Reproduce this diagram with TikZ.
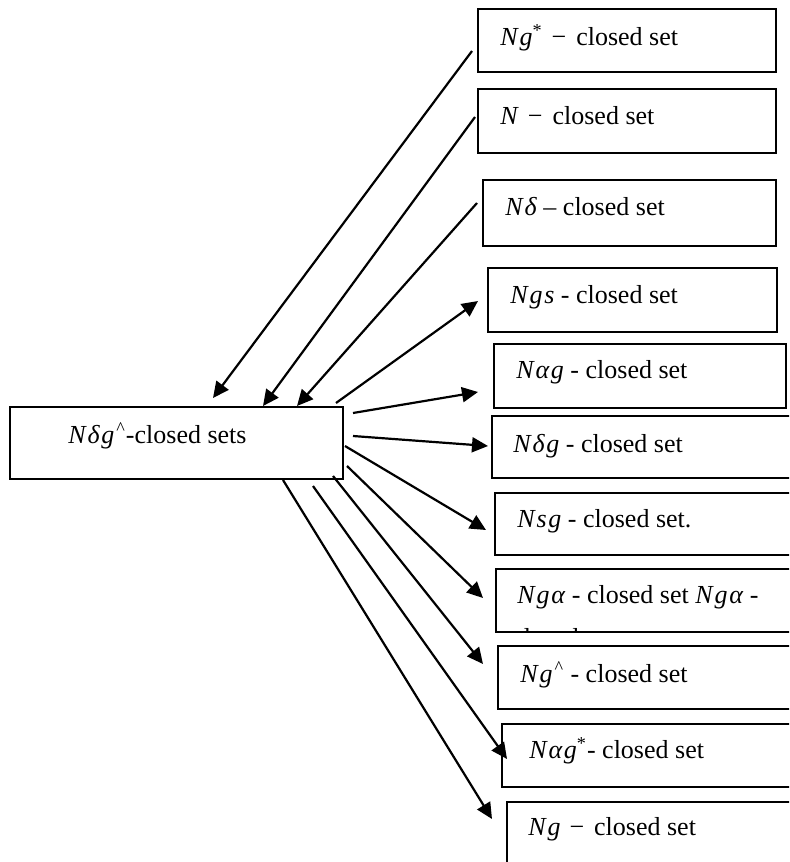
\documentclass[tikz,border=0pt]{standalone}
\usepackage{fontspec}
\setmainfont{Liberation Serif}
\usetikzlibrary{arrows.meta,fit}
\newcommand\mk{\kern0.9pt}
\newcommand\mminus{\kern4.5pt−\kern5pt}
\begin{document}
\begin{tikzpicture}[x=0.5pt,y=-0.5pt,
  box/.style={draw, line width=1pt, inner sep=0pt, fit={#1}},
  lbl/.style={anchor=base west, inner sep=0pt, font=\fontsize{13}{15}\selectfont},
  arr/.style={line width=1.1pt, -{Triangle[length=8pt,width=7.5pt]}}]
\useasboundingbox (0,0) rectangle (789,862);
\clip (0,0) rectangle (789,862);
% boxes
\node[box={(10,407) (343,479)}] (src) {};
\node[box={(478,9) (776,72)}] (b1) {};
\node[box={(478,89) (776,153)}] (b2) {};
\node[box={(483,180) (776,246)}] (b3) {};
\node[box={(488,268) (777,332)}] (b4) {};
\node[box={(494,344) (786,408)}] (b5) {};
\node[box={(492,416) (800,478)}] (b6) {};
\node[box={(495,493) (800,555)}] (b7) {};
\node[box={(496,569) (800,632)}] (b8) {};
\node[box={(498,646) (800,709)}] (b9) {};
\node[box={(502,724) (800,787)}] (b10) {};
\node[box={(507,802) (800,880)}] (b11) {};
% labels
\node[lbl] (tsrc) at (68,443) {\textit{N\mk δ\mk g}\kern1pt\textsuperscript{\textasciicircum}-closed sets};
\node[lbl] (t1) at (500,45) {\textit{N\mk g}\textsuperscript{*}\mminus closed set};
\node[lbl] (t2) at (500,124) {\textit{N}\mminus closed set};
\node[lbl] (t3) at (505,215) {\textit{N\mk δ} – closed set};
\node[lbl] (t4) at (510,303) {\textit{N\mk g\mk s} - closed set};
\node[lbl] (t5) at (516,378) {\textit{N\mk α\mk g} - closed set};
\node[lbl] (t6) at (513,452) {\textit{N\mk δ\mk g} - closed set};
\node[lbl] (t7) at (517,527) {\textit{N\mk s\mk g} - closed set.};
\node[lbl] (t8) at (517,603) {\textit{N\mk g\mk α} - closed set \textit{N\mk g\mk α} -};
\begin{scope}
\clip (497,570) rectangle (789,631);
\node[lbl] (t8b) at (512,646) {closed};
\end{scope}
\node[lbl] (t9) at (520,682) {\textit{N\mk g}\kern1pt\textsuperscript{\textasciicircum} - closed set};
\node[lbl] (t10) at (529,758) {\textit{N\mk α\mk g}\textsuperscript{*}- closed set};
\node[lbl] (t11) at (528,835) {\textit{N\mk g}\mminus closed set};
% arrow end points
\coordinate (a1) at (472,51);  \coordinate (a2) at (213,398);
\coordinate (b1s) at (475,117); \coordinate (b2e) at (263,406);
\coordinate (c1) at (477,203); \coordinate (c2) at (297,406);
\coordinate (d1) at (336,403); \coordinate (d2) at (478,301);
\coordinate (e1) at (353,413); \coordinate (e2) at (478,392);
\coordinate (f1) at (353,436); \coordinate (f2) at (488,446);
\coordinate (g1) at (345,446); \coordinate (g2) at (486,530);
\coordinate (h1) at (347,466); \coordinate (h2) at (483,598);
\coordinate (i1) at (333,476); \coordinate (i2) at (483,664);
\coordinate (j1) at (313,486); \coordinate (j2) at (507,759);
\coordinate (k1) at (283,480); \coordinate (k2) at (492,819);
% arrows
\draw[arr] (a1) -- (a2);
\draw[arr] (b1s) -- (b2e);
\draw[arr] (c1) -- (c2);
\draw[arr] (d1) -- (d2);
\draw[arr] (e1) -- (e2);
\draw[arr] (f1) -- (f2);
\draw[arr] (g1) -- (g2);
\draw[arr] (h1) -- (h2);
\draw[arr] (i1) -- (i2);
\draw[arr] (j1) -- (j2);
\draw[arr] (k1) -- (k2);
\end{tikzpicture}
\end{document}
